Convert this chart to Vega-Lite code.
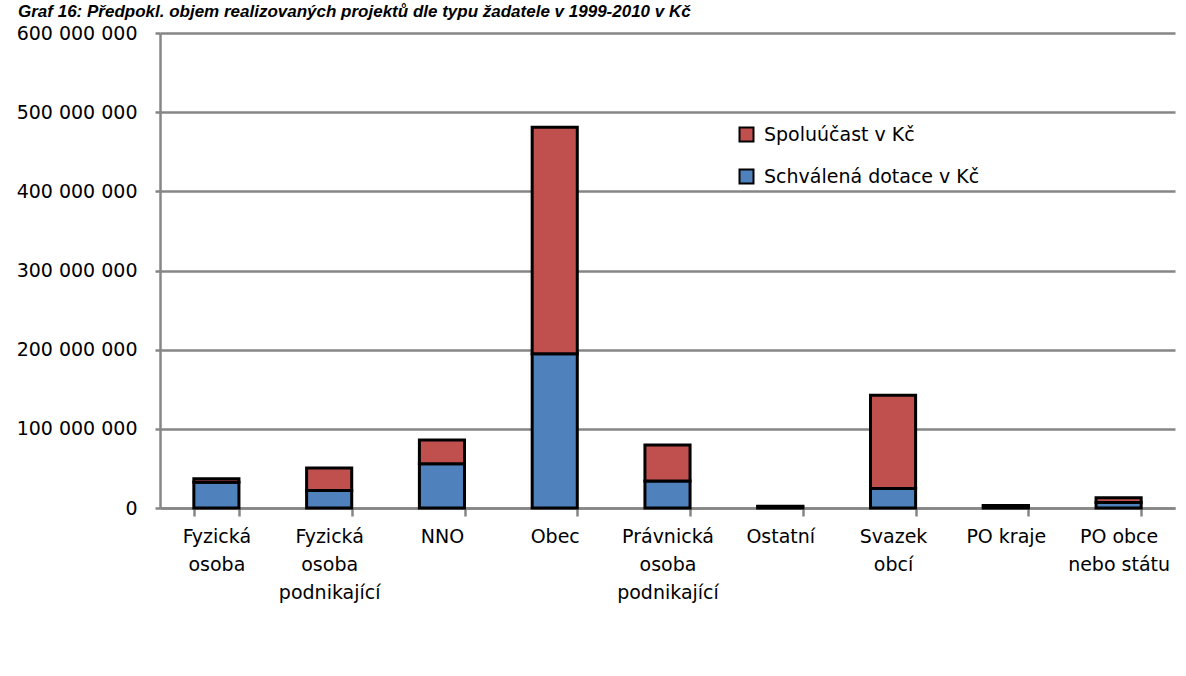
{
  "$schema": "https://vega.github.io/schema/vega-lite/v6.json",
  "autosize": {"type": "none"},
  "width": 1015,
  "height": 475,
  "padding": {"left": 160, "top": 33, "right": 11, "bottom": 168},
  "background": "white",
  "title": {
    "text": "Graf 16: Předpokl. objem realizovaných projektů dle typu žadatele v 1999-2010 v Kč",
    "anchor": "start",
    "frame": "group",
    "dx": -142,
    "offset": 10,
    "dy": 7,
    "font": "Liberation Sans",
    "fontSize": 17,
    "fontWeight": "bold",
    "fontStyle": "italic",
    "color": "black"
  },
  "data": {
    "values": [
      {"typ": "Fyzická osoba", "serie": "Schválená dotace v Kč", "castka": 32500000},
      {"typ": "Fyzická osoba", "serie": "Spoluúčast v Kč", "castka": 4500000},
      {"typ": "Fyzická osoba podnikající", "serie": "Schválená dotace v Kč", "castka": 22000000},
      {"typ": "Fyzická osoba podnikající", "serie": "Spoluúčast v Kč", "castka": 28500000},
      {"typ": "NNO", "serie": "Schválená dotace v Kč", "castka": 56000000},
      {"typ": "NNO", "serie": "Spoluúčast v Kč", "castka": 30000000},
      {"typ": "Obec", "serie": "Schválená dotace v Kč", "castka": 195000000},
      {"typ": "Obec", "serie": "Spoluúčast v Kč", "castka": 286000000},
      {"typ": "Právnická osoba podnikající", "serie": "Schválená dotace v Kč", "castka": 34000000},
      {"typ": "Právnická osoba podnikající", "serie": "Spoluúčast v Kč", "castka": 45500000},
      {"typ": "Ostatní", "serie": "Schválená dotace v Kč", "castka": 1500000},
      {"typ": "Ostatní", "serie": "Spoluúčast v Kč", "castka": 800000},
      {"typ": "Svazek obcí", "serie": "Schválená dotace v Kč", "castka": 24500000},
      {"typ": "Svazek obcí", "serie": "Spoluúčast v Kč", "castka": 118000000},
      {"typ": "PO kraje", "serie": "Schválená dotace v Kč", "castka": 2500000},
      {"typ": "PO kraje", "serie": "Spoluúčast v Kč", "castka": 800000},
      {"typ": "PO obce nebo státu", "serie": "Schválená dotace v Kč", "castka": 7000000},
      {"typ": "PO obce nebo státu", "serie": "Spoluúčast v Kč", "castka": 6000000}
    ]
  },
  "mark": {"type": "bar", "stroke": "black", "strokeWidth": 3},
  "encoding": {
    "x": {
      "field": "typ",
      "type": "nominal",
      "sort": null,
      "scale": {"paddingInner": 0.6, "paddingOuter": 0.3},
      "axis": {
        "title": null,
        "labelAngle": 0,
        "tickBand": "extent",
        "labelExpr": "datum.label == 'PO kraje' ? 'PO kraje' : datum.label == 'PO obce nebo státu' ? ['PO obce', 'nebo státu'] : split(datum.label, ' ')",
        "labelLineHeight": 28,
        "labelPadding": 11,
        "labelBaseline": "top",
        "tickSize": 8,
        "grid": false
      }
    },
    "y": {
      "field": "castka",
      "type": "quantitative",
      "stack": "zero",
      "scale": {"domain": [0, 600000000], "nice": false},
      "axis": {
        "title": null,
        "values": [0, 100000000, 200000000, 300000000, 400000000, 500000000, 600000000],
        "format": ",.0f",
        "tickSize": 5,
        "labelPadding": 18,
        "grid": true
      }
    },
    "color": {
      "field": "serie",
      "type": "nominal",
      "scale": {
        "domain": ["Spoluúčast v Kč", "Schválená dotace v Kč"],
        "range": ["#C0504D", "#4F81BD"]
      },
      "legend": {
        "title": null,
        "orient": "none",
        "legendX": 577,
        "legendY": 92,
        "padding": 0,
        "symbolType": "square",
        "symbolSize": 196,
        "symbolStrokeColor": "black",
        "symbolStrokeWidth": 2,
        "symbolOpacity": 1,
        "labelFontSize": 19,
        "labelFont": "DejaVu Sans",
        "labelColor": "black",
        "labelOffset": 8,
        "rowPadding": 19,
        "labelLimit": 400
      }
    },
    "order": {"field": "serie", "sort": "ascending"}
  },
  "config": {
    "locale": {
      "number": {"decimal": ",", "thousands": " ", "grouping": [3], "currency": ["", " Kč"]}
    },
    "view": {"stroke": null},
    "axis": {
      "labelFont": "DejaVu Sans",
      "labelFontSize": 19,
      "labelColor": "black",
      "domainColor": "#868686",
      "domainWidth": 2.5,
      "tickColor": "#868686",
      "tickWidth": 2.5,
      "gridColor": "#868686",
      "gridWidth": 2.5,
      "labelOverlap": false
    }
  }
}
